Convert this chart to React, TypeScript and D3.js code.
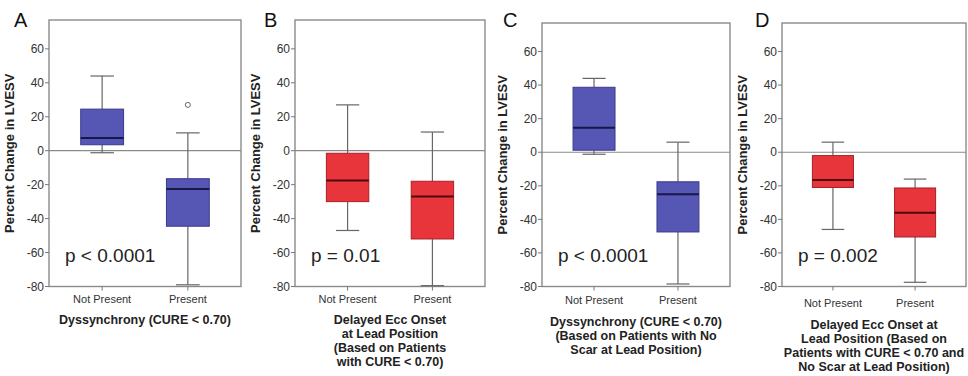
import React from "react";
import * as d3 from "d3";

const W = 968;
const H = 376;

const categories = ["Not Present", "Present"];
const panelLetters = ["A", "B", "C", "D"];
const pValues = ["p < 0.0001", "p = 0.01", "p < 0.0001", "p = 0.002"];
const yTicks = [-80, -60, -40, -20, 0, 20, 40, 60];
const xTitles = [
  ["Dyssynchrony (CURE < 0.70)"],
  ["Delayed Ecc Onset", "at Lead Position", "(Based on Patients", "with CURE < 0.70)"],
  ["Dyssynchrony (CURE < 0.70)", "(Based on Patients with No", "Scar at Lead Position)"],
  ["Delayed Ecc Onset at", "Lead Position (Based on", "Patients with CURE < 0.70 and", "No Scar at Lead Position)"],
];

// box stats per panel: [Not Present, Present]
const whiskerHigh = [[44, 10.5], [27, 11], [44, 6], [6, -16]];
const q3 = [[24.5, -16.5], [-1.5, -18], [38.7, -17.6], [-2, -21.3]];
const medians = [[7.5, -22.5], [-17.6, -27], [14.6, -25], [-16.6, -36]];
const q1 = [[3.5, -44.5], [-30, -52], [1.2, -47.5], [-21, -50.5]];
const whiskerLow = [[-1.2, -79], [-47, -79.5], [-1.2, -78.5], [-46, -77.5]];
const outliers = [[[], [27]], [[], []], [[], []], [[], []]];

// panel layout (pixels)
const frames = [
  { left: 49, right: 241, top: 20, letterX: 14, labelY: 303, titleY: 324 },
  { left: 295, right: 485, top: 20, letterX: 264, labelY: 303, titleY: 324 },
  { left: 542, right: 730, top: 23, letterX: 503, labelY: 304, titleY: 326 },
  { left: 782, right: 966, top: 23, letterX: 755, labelY: 307, titleY: 329 },
];
const bottom = 286.5;

const palettes = [
  { fill: "#5656b4", stroke: "#3a3a8c", median: "#171748" },
  { fill: "#e8343b", stroke: "#a82028", median: "#4e0a0a" },
  { fill: "#5656b4", stroke: "#3a3a8c", median: "#171748" },
  { fill: "#e8343b", stroke: "#a82028", median: "#4e0a0a" },
];

const font = "'Liberation Sans', Arial, sans-serif";

const Panel = ({ i }: { i: number }) => {
  const f = frames[i];
  const pal = palettes[i];
  const y = d3.scaleLinear().domain([-80, 77]).range([bottom, f.top]);
  const x = d3.scalePoint<string>().domain(categories).range([f.left, f.right]).padding(0.62);
  const boxW = x.step() * 0.5;
  const capW = boxW * 0.55;
  const cx = (f.left + f.right) / 2;

  return (
    <g>
      <text x={f.letterX} y={27} fontSize={20} fontFamily={font} fill="#111">
        {panelLetters[i]}
      </text>
      <rect x={f.left} y={f.top} width={f.right - f.left} height={bottom - f.top} fill="white" stroke="#8a8a8a" strokeWidth={1.4} />
      <line x1={f.left} x2={f.right} y1={y(0)} y2={y(0)} stroke="#8a8a8a" strokeWidth={1.2} />
      {yTicks.map((t) => (
        <g key={t}>
          <line x1={f.left - 4} x2={f.left} y1={y(t)} y2={y(t)} stroke="#777" />
          <text x={f.left - 5} y={y(t)} dy="0.35em" textAnchor="end" fontSize={12} fontFamily={font} fill="#333">
            {t}
          </text>
        </g>
      ))}
      <text
        transform={`translate(${f.left - 35},${(f.top + bottom) / 2}) rotate(-90)`}
        textAnchor="middle"
        fontSize={13}
        fontWeight="bold"
        fontFamily={font}
        fill="#222"
      >
        Percent Change in LVESV
      </text>
      {categories.map((c, j) => {
        const px = x(c) as number;
        return (
          <g key={c}>
            <line x1={px} x2={px} y1={bottom} y2={bottom + 4} stroke="#777" />
            <text x={px} y={f.labelY} textAnchor="middle" fontSize={11} fontFamily={font} fill="#333">
              {c}
            </text>
            <line x1={px} x2={px} y1={y(whiskerHigh[i][j])} y2={y(q3[i][j])} stroke="#666" strokeWidth={1.2} />
            <line x1={px} x2={px} y1={y(q1[i][j])} y2={y(whiskerLow[i][j])} stroke="#666" strokeWidth={1.2} />
            <line x1={px - capW / 2} x2={px + capW / 2} y1={y(whiskerHigh[i][j])} y2={y(whiskerHigh[i][j])} stroke="#666" strokeWidth={1.2} />
            <line x1={px - capW / 2} x2={px + capW / 2} y1={y(whiskerLow[i][j])} y2={y(whiskerLow[i][j])} stroke="#666" strokeWidth={1.2} />
            <rect
              x={px - boxW / 2}
              y={y(q3[i][j])}
              width={boxW}
              height={y(q1[i][j]) - y(q3[i][j])}
              fill={pal.fill}
              stroke={pal.stroke}
              strokeWidth={1}
            />
            <line x1={px - boxW / 2} x2={px + boxW / 2} y1={y(medians[i][j])} y2={y(medians[i][j])} stroke={pal.median} strokeWidth={2} />
            {outliers[i][j].map((o, k) => (
              <circle key={k} cx={px} cy={y(o)} r={2.5} fill="white" stroke="#666" strokeWidth={1} />
            ))}
          </g>
        );
      })}
      <text x={f.left + 16} y={262} fontSize={19} fontFamily={font} fill="#222">
        {pValues[i]}
      </text>
      {xTitles[i].map((line, k) => (
        <text key={k} x={cx} y={f.titleY + k * 14} textAnchor="middle" fontSize={12.5} fontWeight="bold" fontFamily={font} fill="#222">
          {line}
        </text>
      ))}
    </g>
  );
};

export default function App() {
  return (
    <svg
      width={W}
      height={H}
      style={{ position: "absolute", left: 0, top: 0, background: "white", display: "block" }}
    >
      <rect width={W} height={H} fill="white" />
      {panelLetters.map((_, i) => (
        <Panel key={i} i={i} />
      ))}
    </svg>
  );
}
